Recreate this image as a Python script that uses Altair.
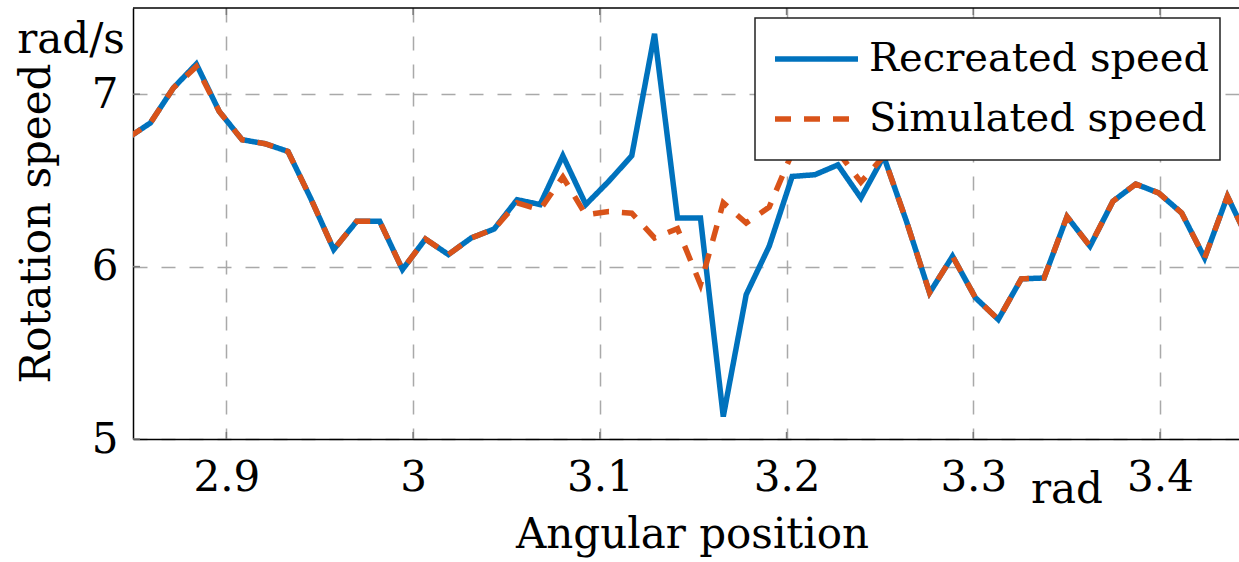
import altair as alt
import pandas as pd

# ---- data ----
angle = [2.8471, 2.8593, 2.8716, 2.8839, 2.8962, 2.9084, 2.9207, 2.9330, 2.9452, 2.9575,
         2.9698, 2.9821, 2.9943, 3.0066, 3.0189, 3.0311, 3.0434, 3.0557, 3.0680, 3.0802,
         3.0925, 3.1048, 3.1171, 3.1293, 3.1416, 3.1539, 3.1661, 3.1784, 3.1907, 3.2030,
         3.2152, 3.2275, 3.2398, 3.2520, 3.2643, 3.2766, 3.2889, 3.3011, 3.3134, 3.3257,
         3.3379, 3.3502, 3.3625, 3.3748, 3.3870, 3.3993, 3.4116, 3.4239, 3.4361, 3.4484]

recreated = [6.745, 6.833, 7.036, 7.175, 6.900, 6.736, 6.713, 6.668, 6.395, 6.099,
             6.263, 6.263, 5.983, 6.160, 6.070, 6.166, 6.218, 6.388, 6.360, 6.643,
             6.360, 6.495, 6.643, 7.350, 6.282, 6.282, 5.130, 5.838, 6.118, 6.523,
             6.533, 6.590, 6.398, 6.640, 6.260, 5.848, 6.060, 5.820, 5.693, 5.929,
             5.934, 6.290, 6.118, 6.379, 6.479, 6.427, 6.311, 6.050, 6.408, 6.130]

simulated = [6.745, 6.833, 7.036, 7.160, 6.900, 6.736, 6.713, 6.668, 6.395, 6.099,
             6.263, 6.263, 5.983, 6.160, 6.070, 6.166, 6.218, 6.370, 6.330, 6.520,
             6.300, 6.320, 6.310, 6.166, 6.220, 5.896, 6.370, 6.253, 6.345, 6.660,
             6.650, 6.665, 6.490, 6.640, 6.260, 5.848, 6.060, 5.820, 5.693, 5.929,
             5.934, 6.290, 6.118, 6.379, 6.479, 6.427, 6.311, 6.050, 6.408, 6.130]

series_names = ["Recreated speed", "Simulated speed"]
series_colors = ["#0072BD", "#D95319"]
series_dash = [[1, 0], [16, 13]]
x_ticks = [2.9, 3.0, 3.1, 3.2, 3.3, 3.4]
y_ticks = [5, 6, 7]
x_domain = [2.85, 3.4423]
y_domain = [5, 7.5]
x_unit = "rad"
y_unit = "rad/s"

rows = []
for name, vals in zip(series_names, [recreated, simulated]):
    for a, v in zip(angle, vals):
        rows.append({"angle": a, "speed": v, "series": name})
df = pd.DataFrame(rows)

W, H = 1106, 431
FONT = "DejaVu Serif"
FS = 42

xscale = alt.Scale(domain=x_domain, nice=False, zero=False)
yscale = alt.Scale(domain=y_domain, nice=False, zero=False)

xaxis = alt.Axis(values=x_ticks, format="~g", title="Angular position",
                 labelBaseline="top", labelPadding=18, labelFlush=False,
                 labelOverlap=False, titleX=559, titleY=108,
                 titleBaseline="alphabetic", titleAlign="center")
yaxis = alt.Axis(values=y_ticks, format="d", title="Rotation speed",
                 labelBaseline="middle", labelPadding=15, labelFlush=False,
                 titleAngle=270, titleX=-84, titleY=215,
                 titleBaseline="alphabetic", titleAlign="center")

legend = alt.Legend(
    orient="none", legendX=622, legendY=10, title=None, direction="vertical",
    fillColor="white", strokeColor="#222222", padding=11, rowPadding=0, clipHeight=60,
    labelFont=FONT, labelFontSize=40, labelColor="black", labelLimit=600,
    symbolType="stroke", symbolSize=6889, symbolStrokeWidth=5.5, symbolOffset=6,
    labelOffset=8,
)

lines = alt.Chart(df).mark_line(clip=True, strokeWidth=5.5, strokeCap="butt").encode(
    x=alt.X("angle:Q", scale=xscale, axis=xaxis),
    y=alt.Y("speed:Q", scale=yscale, axis=yaxis),
    color=alt.Color("series:N", scale=alt.Scale(domain=series_names, range=series_colors),
                    legend=legend),
    strokeDash=alt.StrokeDash("series:N", scale=alt.Scale(domain=series_names, range=series_dash),
                              legend=legend),
)

xt = pd.DataFrame({"angle": x_ticks})
yt = pd.DataFrame({"speed": y_ticks})
tick_color = "#7a7a7a"

bottom_ticks = alt.Chart(xt).mark_rule(color=tick_color, strokeWidth=1.5).encode(
    x=alt.X("angle:Q", scale=xscale, axis=xaxis), y=alt.value(H - 7), y2=alt.value(H))
top_ticks = alt.Chart(xt).mark_rule(color=tick_color, strokeWidth=1.5).encode(
    x=alt.X("angle:Q", scale=xscale, axis=xaxis), y=alt.value(0), y2=alt.value(7))
left_ticks = alt.Chart(yt).mark_rule(color=tick_color, strokeWidth=1.5).encode(
    y=alt.Y("speed:Q", scale=yscale, axis=yaxis), x=alt.value(0), x2=alt.value(7))

top_border = alt.Chart(pd.DataFrame({"speed": [y_domain[1]]})).mark_rule(
    color="black", strokeWidth=1.5).encode(y=alt.Y("speed:Q", scale=yscale, axis=yaxis))

unit_y = alt.Chart(pd.DataFrame({"label": [y_unit]})).mark_text(
    font=FONT, fontSize=FS, align="center", baseline="alphabetic", color="black").encode(
    x=alt.value(-62), y=alt.value(45), text="label:N")
unit_x = alt.Chart(pd.DataFrame({"label": [x_unit]})).mark_text(
    font=FONT, fontSize=FS, align="center", baseline="alphabetic", color="black").encode(
    x=alt.value(934), y=alt.value(495), text="label:N")

chart = alt.layer(lines, bottom_ticks, top_ticks, left_ticks, top_border, unit_y, unit_x).properties(
    width=W, height=H,
    padding={"left": 133, "top": 8, "right": 0, "bottom": 123},
    autosize=alt.AutoSizeParams(type="none"),
).configure_view(stroke=None).configure_axis(
    labelFont=FONT, titleFont=FONT, labelFontSize=FS, titleFontSize=FS,
    labelColor="black", titleColor="black", titleFontWeight="normal",
    grid=True, gridColor="#a9a9a9", gridDash=[14, 14], gridWidth=1.5,
    domainColor="black", domainWidth=1.5, ticks=False, tickSize=0,
).configure_legend(strokeWidth=1.5)

chart.save("out.html", embed_options={"renderer": "svg", "actions": False})
